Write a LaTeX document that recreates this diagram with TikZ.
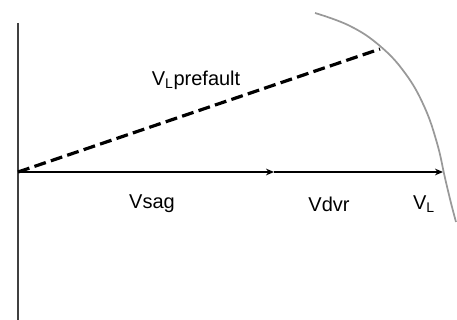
\documentclass[tikz,border=0pt]{standalone}
\usepackage{fontspec}
\setmainfont{Liberation Sans}
\usetikzlibrary{arrows.meta}
\begin{document}
\begin{tikzpicture}[x=0.75pt,y=-0.75pt,
  vec/.style={line width=1.6pt,-{Stealth[length=6pt,width=5pt]}},
  axis/.style={line width=1.1pt,black!75},
  dashvec/.style={line width=2.4pt,dash pattern=on 9pt off 4pt},
  locus/.style={line width=1.3pt,black!40},
  lbl/.style={font=\fontsize{15}{16}\selectfont,inner sep=0pt}]
\useasboundingbox (0,0) rectangle (457,320);
\coordinate (top) at (18,23);
\coordinate (bot) at (18,320);
\coordinate (O) at (18,172);
\coordinate (A) at (274,172);
\coordinate (B) at (443,172);
\coordinate (P) at (380,49);
\draw[axis] (top) -- (bot);
\draw[dashvec] (O) -- (P);
\draw[vec] (O) -- (A);
\draw[vec] (A) -- (B);
\draw[locus] plot[smooth,tension=0.7] coordinates {(315,13) (350,26) (380,46) (405,73) (424,106) (437,143) (445,178) (451,203) (456,222)};
\node[lbl] (pre) at (196,80) {V\textsubscript{L}prefault};
\node[lbl] (sag) at (152,204) {Vsag};
\node[lbl] (dvr) at (329,204) {Vdvr};
\node[lbl] (vl) at (424,204) {V\textsubscript{L}};
\end{tikzpicture}
\end{document}
